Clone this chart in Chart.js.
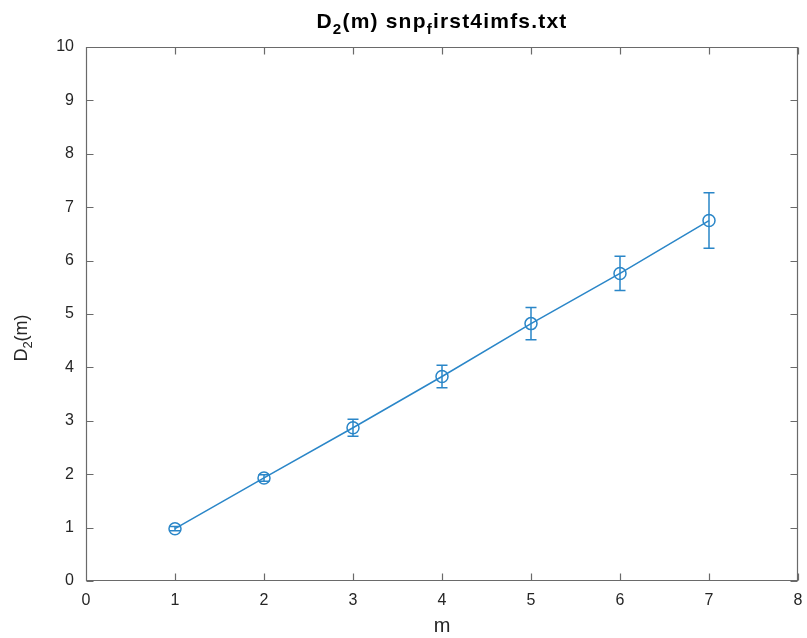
<!DOCTYPE html>
<html>
<head>
<meta charset="utf-8">
<script src="https://cdn.jsdelivr.net/npm/chart.js@4.4.0/dist/chart.umd.min.js"></script>
<style>
html,body{margin:0;padding:0;background:#fff;}
#wrap{position:relative;width:807px;height:638px;}
</style>
</head>
<body>
<div id="wrap"><canvas id="c" width="807" height="638"></canvas></div>
<script>
// ---- data ----
const mValues = [1, 2, 3, 4, 5, 6, 7];
const d2Values = [0.98, 1.93, 2.87, 3.83, 4.82, 5.76, 6.75];
const d2Errors = [0.04, 0.06, 0.16, 0.21, 0.30, 0.32, 0.52];
const xTicks = [0, 1, 2, 3, 4, 5, 6, 7, 8];
const yTicks = [0, 1, 2, 3, 4, 5, 6, 7, 8, 9, 10];

const titleParts = [['D',''],['2','sub'],['(m) snp',''],['f','sub'],['irst4imfs.txt','']];
const yLabelParts = [['D',''],['2','sub'],['(m)','']];
const xLabel = 'm';

const BLUE = '#2a86c8';
const AXIS = '#6a6a6a';
const TEXT = '#262626';
const FONT = '"Liberation Sans", Arial, Helvetica, sans-serif';

function drawParts(ctx, parts, size, bold, cx, cy, spacing) {
  const f = (s) => (bold ? 'bold ' : '') + s + 'px ' + FONT;
  ctx.letterSpacing = (spacing || 0) + 'px';
  let total = 0;
  const widths = parts.map(([t, k]) => {
    ctx.font = f(k === 'sub' ? size * 0.72 : size);
    const w = ctx.measureText(t).width;
    total += w;
    return w;
  });
  let x = cx - total / 2;
  ctx.textBaseline = 'alphabetic';
  ctx.textAlign = 'left';
  parts.forEach(([t, k], i) => {
    ctx.font = f(k === 'sub' ? size * 0.72 : size);
    ctx.fillText(t, x, cy + (k === 'sub' ? size * 0.3 : 0));
    x += widths[i];
  });
  ctx.letterSpacing = '0px';
}

const decor = {
  id: 'decor',
  afterDatasetsDraw(chart) {
    const ctx = chart.ctx;
    const xs = chart.scales.x, ys = chart.scales.y;
    const ds = chart.data.datasets[0].data;
    ctx.save();
    ctx.strokeStyle = BLUE;
    ctx.lineWidth = 1.5;
    ds.forEach((p, i) => {
      const px = xs.getPixelForValue(p.x);
      const top = ys.getPixelForValue(p.y + d2Errors[i]);
      const bot = ys.getPixelForValue(p.y - d2Errors[i]);
      const cap = 5.5;
      ctx.beginPath();
      ctx.moveTo(px, top); ctx.lineTo(px, bot);
      ctx.moveTo(px - cap, top); ctx.lineTo(px + cap, top);
      ctx.moveTo(px - cap, bot); ctx.lineTo(px + cap, bot);
      ctx.stroke();
    });
    ctx.restore();
  },
  afterDraw(chart) {
    const ctx = chart.ctx;
    const a = chart.chartArea;
    const xs = chart.scales.x, ys = chart.scales.y;
    ctx.save();
    ctx.strokeStyle = AXIS;
    ctx.lineWidth = 1.2;
    const L = Math.round(a.left) + 0.5, R = Math.round(a.right) - 0.5;
    const T = Math.round(a.top) + 0.5, B = Math.round(a.bottom) - 0.5;
    ctx.beginPath();
    ctx.rect(L, T, R - L, B - T);
    const tl = 7;
    xTicks.forEach(v => {
      const px = Math.round(xs.getPixelForValue(v)) + 0.5;
      ctx.moveTo(px, B); ctx.lineTo(px, B - tl);
      ctx.moveTo(px, T); ctx.lineTo(px, T + tl);
    });
    yTicks.forEach(v => {
      const py = Math.round(ys.getPixelForValue(v)) + 0.5;
      ctx.moveTo(L, py); ctx.lineTo(L + tl, py);
      ctx.moveTo(R, py); ctx.lineTo(R - tl, py);
    });
    ctx.stroke();
    // title
    ctx.fillStyle = '#000';
    drawParts(ctx, titleParts, 21, true, (a.left + a.right) / 2, 28, 1.2);
    // y label
    ctx.fillStyle = TEXT;
    ctx.translate(27, 338);
    ctx.rotate(-Math.PI / 2);
    drawParts(ctx, yLabelParts, 18, false, 0, 0, 0);
    ctx.restore();
  }
};

new Chart(document.getElementById('c'), {
  type: 'scatter',
  data: {
    datasets: [{
      data: mValues.map((m, i) => ({ x: m, y: d2Values[i] })),
      showLine: true,
      borderColor: BLUE,
      borderWidth: 1.5,
      pointStyle: 'circle',
      pointRadius: 6,
      pointBorderWidth: 1.5,
      pointBorderColor: BLUE,
      pointBackgroundColor: 'rgba(0,0,0,0)',
      pointHoverRadius: 6
    }]
  },
  plugins: [decor],
  options: {
    responsive: false,
    animation: false,
    events: [],
    layout: { padding: { top: 47, right: 9, left: 0, bottom: 0 } },
    plugins: { legend: { display: false }, tooltip: { enabled: false }, title: { display: false } },
    scales: {
      x: {
        type: 'linear', min: 0, max: 8,
        afterBuildTicks: (s) => { s.ticks = xTicks.map(v => ({ value: v })); },
        afterFit: (s) => { s.height = 57; s.paddingLeft = 0; s.paddingRight = 0; },
        grid: { display: false, drawTicks: false },
        border: { display: false },
        ticks: { color: TEXT, font: { family: FONT, size: 16 }, padding: 10, maxRotation: 0 },
        title: { display: true, text: xLabel, color: TEXT, font: { family: FONT, size: 20 }, padding: { top: 1, bottom: 0 } }
      },
      y: {
        type: 'linear', min: 0, max: 10,
        afterBuildTicks: (s) => { s.ticks = yTicks.map(v => ({ value: v })); },
        afterFit: (s) => { s.width = 86; s.paddingTop = 0; s.paddingBottom = 0; },
        grid: { display: false, drawTicks: false },
        border: { display: false },
        ticks: { color: TEXT, font: { family: FONT, size: 16 }, padding: 12 }
      }
    }
  }
});
</script>
</body>
</html>
